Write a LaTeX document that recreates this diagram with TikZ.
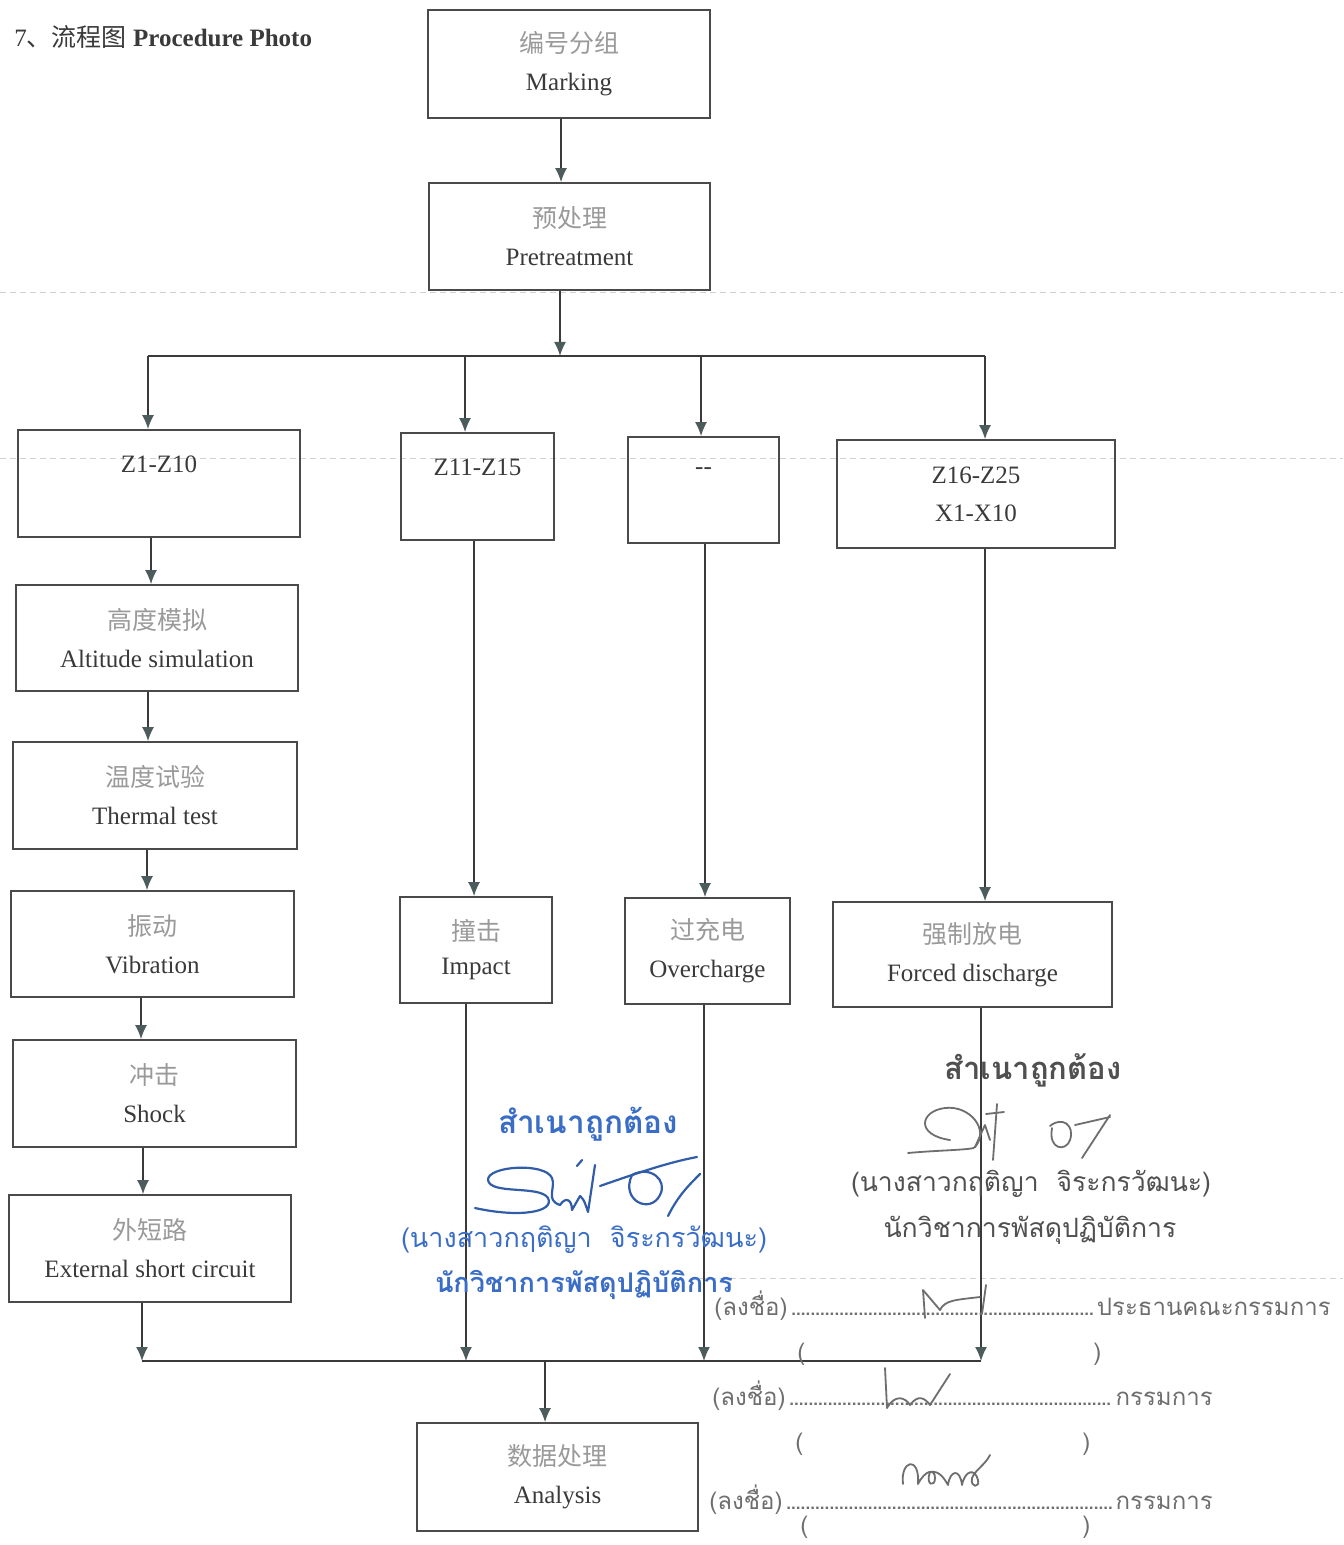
\documentclass[tikz,border=0pt]{standalone}
\usepackage{fontspec}
\setmainfont{Liberation Serif}
\newfontfamily\cjk{Noto Sans CJK SC}
\newfontfamily\thai[Script=Thai]{Loma}
\usetikzlibrary{arrows.meta}
\definecolor{ink}{HTML}{3A3A3A}
\definecolor{boxc}{HTML}{4A4A4A}
\definecolor{cjkc}{HTML}{9A9A9A}
\definecolor{tipc}{HTML}{4C5B5B}
\definecolor{stampblue}{HTML}{3A6EC6}
\definecolor{stampgray}{HTML}{505050}
\definecolor{sigc}{HTML}{6E6E6E}
\newcommand\densedots{\leaders\hbox to 2.4pt{\hss.\hss}\hfill}
\newcommand\zh[1]{{\cjk\color{cjkc}#1}}
\begin{document}
\begin{tikzpicture}[x=0.5pt,y=-0.5pt,
  box/.style={draw=boxc, line width=0.9pt, inner sep=0pt, align=center,
    text=ink, font=\fontsize{12.5}{19}\selectfont},
  line/.style={draw=ink, line width=0.75pt},
  arr/.style={draw=ink, line width=0.75pt, -{Latex[length=7pt,width=6pt,color=tipc]}},
  stb/.style={text=stampblue, inner sep=0pt},
  stg/.style={text=stampgray, inner sep=0pt},
  sigline/.style={text=sigc, inner sep=0pt, anchor=west, font=\thai\fontsize{12}{14}\selectfont},
  sigb/.style={draw=stampblue!85!black, line width=1.1pt, line cap=round, line join=round},
  sigg/.style={draw=sigc, line width=0.9pt, line cap=round, line join=round},
  scan/.style={draw=black!18, line width=0.4pt, dash pattern=on 3pt off 2pt}]
\useasboundingbox (0,0) rectangle (1343,1545);
\fill[white] (0,0) rectangle (1343,1545);

% faint scan lines
\draw[scan] (0,292) -- (1343,292);
\draw[scan] (0,458) -- (1343,458);
\draw[scan] (700,1278) -- (1343,1278);

% title
\node[anchor=west, text=ink, font=\fontsize{12.5}{15}\selectfont, inner sep=0pt] (title) at (14,37)
  {7{\cjk 、流程图} \textbf{Procedure Photo}};

% boxes
\node[box, minimum width=141pt, minimum height=54pt] (mark) at (569,64) {\zh{编号分组}\\Marking};
\node[box, minimum width=140.5pt, minimum height=53.5pt] (pre) at (569.5,236.5) {\zh{预处理}\\Pretreatment};
\node[box, minimum width=141pt, minimum height=53.5pt] (z1) at (159,483.5) {Z1-Z10\\\mbox{}};
\node[box, minimum width=76.5pt, minimum height=53.5pt] (z11) at (477.5,486.5) {Z11-Z15\\\mbox{}};
\node[box, minimum width=75.5pt, minimum height=53pt] (zd) at (703.5,490) {\mbox{-}\mbox{-}\\\mbox{}};
\node[box, minimum width=139pt, minimum height=54pt] (z16) at (976,494) {Z16-Z25\\X1-X10};
\node[box, minimum width=141pt, minimum height=53pt] (alt) at (157,638) {\zh{高度模拟}\\Altitude simulation};
\node[box, minimum width=142pt, minimum height=53.5pt] (therm) at (155,795.5) {\zh{温度试验}\\Thermal test};
\node[box, minimum width=141.5pt, minimum height=53pt] (vib) at (152.5,944) {\zh{振动}\\Vibration};
\node[box, minimum width=141.5pt, minimum height=53.5pt] (shock) at (154.5,1093.5) {\zh{冲击}\\Shock};
\node[box, minimum width=141pt, minimum height=53.5pt] (ext) at (150,1248.5) {\zh{外短路}\\External short circuit};
\node[box, minimum width=76pt, minimum height=53pt, font=\fontsize{12.5}{17}\selectfont] (imp) at (476,950) {\zh{撞击}\\Impact};
\node[box, minimum width=82.5pt, minimum height=53pt] (over) at (707.5,951) {\zh{过充电}\\Overcharge};
\node[box, minimum width=139.5pt, minimum height=52.5pt] (forced) at (972.5,954.5) {\zh{强制放电}\\Forced discharge};
\node[box, minimum width=140.5pt, minimum height=54pt] (ana) at (557.5,1477) {\zh{数据处理}\\Analysis};

% coordinates
\coordinate (a1) at (561,0);
\coordinate (tp) at (560,356);
\coordinate (tL) at (148,356);
\coordinate (t2) at (465,356);
\coordinate (t3) at (701,356);
\coordinate (tR) at (985,356);
\coordinate (l1) at (151,0);
\coordinate (l2) at (148,0);
\coordinate (l3) at (147,0);
\coordinate (l4) at (141,0);
\coordinate (l5) at (143,0);
\coordinate (c2) at (474,0);
\coordinate (c3) at (705,0);
\coordinate (c4) at (985,0);
\coordinate (bL) at (142,1361);
\coordinate (b2) at (466,1361);
\coordinate (b3) at (704,1361);
\coordinate (b4) at (981,1361);
\coordinate (ba) at (545,1361);

% connectors
\draw[arr] (a1 |- mark.south) -- (a1 |- pre.north);
\draw[arr] (tp |- pre.south) -- (tp);
\draw[line] (tL) -- (tR);
\draw[arr] (tL) -- (tL |- z1.north);
\draw[arr] (t2) -- (t2 |- z11.north);
\draw[arr] (t3) -- (t3 |- zd.north);
\draw[arr] (tR) -- (tR |- z16.north);
\draw[arr] (l1 |- z1.south) -- (l1 |- alt.north);
\draw[arr] (l2 |- alt.south) -- (l2 |- therm.north);
\draw[arr] (l3 |- therm.south) -- (l3 |- vib.north);
\draw[arr] (l4 |- vib.south) -- (l4 |- shock.north);
\draw[arr] (l5 |- shock.south) -- (l5 |- ext.north);
\draw[arr] (c2 |- z11.south) -- (c2 |- imp.north);
\draw[arr] (c3 |- zd.south) -- (c3 |- over.north);
\draw[arr] (c4 |- z16.south) -- (c4 |- forced.north);
\draw[arr] (bL |- ext.south) -- (bL);
\draw[arr] (b2 |- imp.south) -- (b2);
\draw[arr] (b3 |- over.south) -- (b3);
\draw[arr] (b4 |- forced.south) -- (b4);
\draw[line] (bL) -- (b4);
\draw[arr] (ba) -- (ba |- ana.north);

% blue stamp
\node[stb] (s1a) at (588,1124) {\resizebox{90pt}{!}{\thai\bfseries สำเนาถูกต้อง}};
\node[stb] (s1b) at (584,1240) {\resizebox{183pt}{!}{\thai (นางสาวกฤติญา\ \ จิระกรวัฒนะ)}};
\node[stb] (s1c) at (584,1285) {\resizebox{149pt}{!}{\thai\bfseries นักวิชาการพัสดุปฏิบัติการ}};
\draw[sigb] (475,1208) .. controls (520,1218) and (555,1212) .. (548,1198)
  .. controls (540,1185) and (490,1195) .. (488,1180)
  .. controls (487,1166) and (545,1162) .. (552,1178)
  .. controls (556,1188) and (545,1200) .. (560,1205);
\draw[sigb] (560,1205) .. controls (566,1196) and (572,1200) .. (572,1210) -- (580,1196)
  .. controls (584,1200) .. (588,1212) -- (595,1165);
\draw[sigb] (577,1166) -- (582,1160);
\draw[sigb] (600,1186) .. controls (640,1172) and (670,1162) .. (697,1157);
\draw[sigb] (632,1175) .. controls (620,1200) and (650,1215) .. (660,1195)
  .. controls (668,1180) and (650,1165) .. (632,1175);
\draw[sigb] (668,1216) .. controls (678,1196) and (688,1186) .. (700,1174);

% gray stamp
\node[stg] (s2a) at (1033,1070) {\resizebox{88.5pt}{!}{\thai\bfseries สำเนาถูกต้อง}};
\node[stg] (s2b) at (1031,1184) {\resizebox{180pt}{!}{\thai (นางสาวกฤติญา\ \ จิระกรวัฒนะ)}};
\node[stg] (s2c) at (1030,1230) {\resizebox{146.5pt}{!}{\thai นักวิชาการพัสดุปฏิบัติการ}};
\draw[sigg] (908,1153) .. controls (940,1150) and (975,1150) .. (975,1147)
  .. controls (990,1130) and (970,1105) .. (945,1108)
  .. controls (920,1111) and (915,1135) .. (950,1140);
\draw[sigg] (975,1147) -- (985,1125) -- (990,1140);
\draw[sigg] (993,1160) -- (997,1104);
\draw[sigg] (986,1114) -- (1004,1112);
\draw[sigg] (1052,1128) .. controls (1048,1150) and (1066,1152) .. (1070,1140)
  .. controls (1075,1125) and (1062,1116) .. (1050,1126);
\draw[sigg] (1075,1125) -- (1110,1117);
\draw[sigg] (1082,1158) -- (1110,1115);

% signature lines
\node[sigline] (sl1) at (714,1306) {\makebox[308pt][l]{(ลงชื่อ)\densedots ประธานคณะกรรมการ}};
\node[sigline] (pl1) at (797,1354) {\makebox[152pt][l]{(\hfill)}};
\node[sigline] (sl2) at (712,1396) {\makebox[250pt][l]{(ลงชื่อ)\densedots กรรมการ}};
\node[sigline] (pl2) at (795,1444) {\makebox[147.5pt][l]{(\hfill)}};
\node[sigline] (sl3) at (709,1500) {\makebox[251.5pt][l]{(ลงชื่อ)\densedots กรรมการ}};
\node[sigline] (pl3) at (800,1527) {\makebox[145pt][l]{(\hfill)}};

% handwritten signatures
\draw[sigg] (925,1318) -- (923,1290) -- (940,1310)
  .. controls (945,1300) and (955,1300) .. (980,1297);
\draw[sigg] (986,1285) -- (982,1314);
\draw[sigg] (885,1368) -- (887,1408) .. controls (895,1394) and (905,1397) .. (910,1405)
  .. controls (918,1394) and (925,1398) .. (930,1405) -- (950,1374);
\draw[sigg] (903,1484) .. controls (900,1460) and (920,1455) .. (918,1484)
  .. controls (925,1470) and (935,1468) .. (935,1478)
  .. controls (935,1488) and (925,1485) .. (930,1472)
  .. controls (940,1470) and (945,1480) .. (948,1485)
  .. controls (950,1470) and (960,1468) .. (962,1485)
  .. controls (965,1470) and (975,1468) .. (978,1480)
  .. controls (980,1488) and (970,1488) .. (972,1478)
  .. controls (975,1470) and (985,1465) .. (990,1455);
\end{tikzpicture}
\end{document}
